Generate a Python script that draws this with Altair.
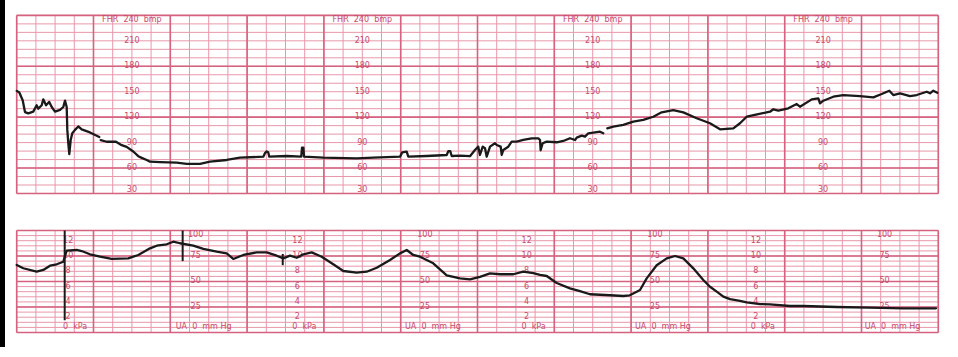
import altair as alt
import pandas as pd
import numpy as np

# ---------------- data (time in minutes, FHR in bpm, UA in mmHg) ----------------
fhr_t = [0.00, 0.034, 0.078, 0.108, 0.151, 0.216, 0.260, 0.281, 0.326, 0.346, 0.382, 0.424, 0.456, 0.499,
         0.564, 0.607, 0.629, 0.651, 0.659, 0.672, 0.685, 0.703, 0.724, 0.759, 0.802, 0.846, 0.954, 1.076,
         1.094, 1.172, 1.293, 1.367, 1.432, 1.518, 1.583, 1.628, 1.693, 1.736, 1.866, 2.083, 2.214, 2.387,
         2.517, 2.734, 2.908, 3.211, 3.235, 3.255, 3.275, 3.289, 3.516, 3.705, 3.715, 3.733, 3.741, 3.992,
         4.427, 4.643, 4.991, 5.020, 5.078, 5.099, 5.339, 5.599, 5.620, 5.645, 5.664, 5.772, 5.902, 5.967,
         6.010, 6.032, 6.068, 6.098, 6.120, 6.163, 6.228, 6.250, 6.302, 6.315, 6.336, 6.401, 6.445, 6.510,
         6.596, 6.706, 6.792, 6.814, 6.822, 6.849, 6.901, 7.031, 7.117, 7.204, 7.270, 7.292, 7.357, 7.400,
         7.443, 7.530, 7.595, 7.638,
         7.690, 7.768, 7.898, 8.029, 8.159, 8.289, 8.398, 8.549, 8.680, 8.854, 9.027, 9.158, 9.331, 9.418,
         9.505, 9.656, 9.809, 9.852, 9.917, 10.047, 10.156, 10.199, 10.352, 10.438, 10.460, 10.503, 10.633,
         10.763, 10.980, 11.154, 11.263, 11.362, 11.414, 11.501, 11.631, 11.719, 11.849, 11.892, 11.935, 11.987]
fhr_bpm = [151, 149, 140, 126, 124.5, 126.5, 134, 130, 134, 141, 134, 138, 132, 126.5,
           128.5, 132, 139.5, 132, 105, 89, 76.5, 93, 101, 105, 109, 105.5, 102, 96.5,
           93, 91, 91, 87, 85, 79.5, 74, 72, 69.5, 67.5, 67, 66.3, 64.8, 65,
           67.5, 69.5, 72.2, 73.4, 78, 79.5, 78.5, 73.4, 74.2, 73.4, 84, 84, 73.4, 72.2,
           71.5, 72.2, 73.4, 78.5, 79.3, 73.4, 74.2, 75.4, 80, 80, 74.2, 74.6, 74, 81.3,
           85.2, 75.4, 85.2, 83.3, 73.4, 85.2, 89.2, 87.2, 85.2, 75.4, 81.3, 85.2, 91.1, 91.1,
           93.1, 95.1, 95.1, 93.1, 81, 89.2, 91.1, 90.4, 91.9, 95.1, 93.1, 95.9, 98.3, 97.1,
           101, 102.1, 102.9, 101,
           106.9, 108.8, 110.8, 114.8, 116.7, 120.5, 125.7, 128.4, 125.7, 118.7, 112.8, 105.7, 106.8, 112.8,
           120.5, 123.7, 126.4, 129.3, 127.6, 130.4, 135.5, 132.3, 141, 142.2, 136.3, 139.4, 144.1,
           146.1, 144.9, 143.4, 147.3, 151.2, 146.1, 148.1, 144.9, 146.1, 150, 148.1, 151.2, 148.8]
fhr_seg = [1] * 28 + [2] * 74 + [3] * 40

ua_t = [0.00, 0.086, 0.260, 0.346, 0.434, 0.521, 0.607, 0.625, 0.651, 0.781, 0.846, 0.954, 1.085, 1.237,
        1.453, 1.583, 1.736, 1.823, 1.953, 2.039, 2.126, 2.299, 2.430, 2.604, 2.734, 2.820, 2.951, 3.125,
        3.255, 3.385, 3.471, 3.559, 3.646, 3.732, 3.841, 3.971, 4.122, 4.253, 4.427, 4.557, 4.688, 4.861,
        4.991, 5.078, 5.164, 5.251, 5.424, 5.599, 5.772, 5.902, 6.032, 6.163, 6.293, 6.466, 6.596, 6.727,
        6.814, 6.901, 7.031, 7.204, 7.334, 7.464, 7.724, 7.898, 7.982, 8.073, 8.116, 8.203, 8.333, 8.464,
        8.572, 8.680, 8.810, 8.940, 9.027, 9.115, 9.201, 9.288, 9.418, 9.505, 9.678, 9.809, 10.069, 10.242,
        10.677, 11.107, 11.544, 11.970]
ua_mmhg = [66.2, 63, 59.6, 61.3, 65.5, 66.9, 69.4, 74, 80.2, 80.9, 79.9, 76.7, 74.3, 72.1,
           72.7, 76, 82.5, 85.1, 86.5, 89, 87.5, 85.1, 81.9, 79.2, 77.6, 72.1, 76, 78.6,
           78.6, 75.3, 72.7, 75.3, 73.3, 76.7, 78.6, 74.3, 66.9, 60.3, 58.6, 59.6, 63.5, 71.1,
           77.6, 80.9, 76, 74.3, 67.8, 56, 53.1, 52, 54.5, 58, 57.1, 57.1, 59.6, 58.2,
           56.4, 55.4, 48.5, 43.3, 40.5, 37.5, 36.5, 35.8, 36.5, 40, 41.7, 53.1, 66, 72.7,
           75, 72.7, 62.9, 51.5, 44.9, 40, 35.1, 32.8, 31, 29.6, 27.9, 27.6, 26, 26,
           25, 24.3, 23.7, 23.7]

event_t = [0.625, 2.161, 3.464]
event_top = [100, 100, 77]
event_bottom = [12, 70, 66]

fhr_label_t = [1.5, 4.5, 7.5, 10.5]
fhr_tick_values = [210, 180, 150, 120, 90, 60]
kpa_label_t = [0.67, 3.655, 6.64, 9.625]
kpa_values = [12, 10, 8, 6, 4, 2]
ua_label_t = [2.33, 5.315, 8.31, 11.30]
ua_values = [75, 50, 25]

# ---------------- scales / styles ----------------
X_DOMAIN = [-0.2174, 12.2565]
FHR_DOMAIN = [-162.83, 258.16]
UA_DOMAIN = [-24.02, 325.98]
THIN = "#e897aa"
THICK = "#d5627f"
LABEL = "#c84a6b"
TRACE = "#1a1a1a"
FONT = "DejaVu Sans"
FS = 8

xs = alt.Scale(domain=X_DOMAIN, nice=False, zero=False)
ys_f = alt.Scale(domain=FHR_DOMAIN, nice=False, zero=False)
ys_u = alt.Scale(domain=UA_DOMAIN, nice=False, zero=False)

minor_t = list(np.round(np.arange(0, 12.001, 0.25), 3))
major_t = list(range(0, 13))


def hgrid(vals, yscale, color, width, x0=0, x1=12):
    df = pd.DataFrame({"v": vals, "a": x0, "b": x1})
    return alt.Chart(df).mark_rule(color=color, strokeWidth=width).encode(
        x=alt.X("a:Q", scale=xs, axis=None), x2="b:Q",
        y=alt.Y("v:Q", scale=yscale, axis=None))


def vgrid(ts, lo, hi, yscale, color, width):
    df = pd.DataFrame({"t": ts, "lo": lo, "hi": hi})
    return alt.Chart(df).mark_rule(color=color, strokeWidth=width).encode(
        x=alt.X("t:Q", scale=xs, axis=None),
        y=alt.Y("lo:Q", scale=yscale, axis=None), y2="hi:Q")


def labels(df, yscale, baseline, dx=0, dy=0):
    return alt.Chart(df).mark_text(font=FONT, fontSize=FS, color=LABEL, baseline=baseline,
                                   align="center", dx=dx, dy=dy).encode(
        x=alt.X("t:Q", scale=xs, axis=None),
        y=alt.Y("v:Q", scale=yscale, axis=None),
        text="s:N")


# ---------------- top panel (FHR) ----------------
fhr_df = pd.DataFrame({"t": fhr_t, "bpm": fhr_bpm, "seg": fhr_seg})
fhr_thin_h = [v for v in range(30, 241, 10)]
fhr_thick_h = [30, 60, 120, 180, 240]

mid_rows = [{"t": t, "v": v, "s": str(v)} for t in fhr_label_t for v in fhr_tick_values]
top_rows = [{"t": t, "v": 240, "s": "FHR\u00a0\u00a0240\u00a0\u00a0bmp"} for t in fhr_label_t]
bot_rows = [{"t": t, "v": 30, "s": "30"} for t in fhr_label_t]

black_strip = alt.Chart(pd.DataFrame({"a": [0]})).mark_rect(color="#000000").encode(
    x=alt.value(0), x2=alt.value(5), y=alt.value(0), y2=alt.value(347))

top = alt.layer(
    hgrid(fhr_thin_h, ys_f, THIN, 1),
    vgrid(minor_t, 30, 240, ys_f, THIN, 1),
    hgrid(fhr_thick_h, ys_f, THICK, 1.6),
    vgrid(major_t, 30, 240, ys_f, THICK, 1.6),
    labels(pd.DataFrame(mid_rows), ys_f, "middle"),
    labels(pd.DataFrame(top_rows), ys_f, "top", dy=0.5),
    labels(pd.DataFrame(bot_rows), ys_f, "alphabetic", dy=-1),
    alt.Chart(fhr_df).mark_line(color=TRACE, strokeWidth=2.3, strokeJoin="round", strokeCap="round").encode(
        x=alt.X("t:Q", scale=xs, axis=None),
        y=alt.Y("bpm:Q", scale=ys_f, axis=None),
        detail="seg:N"),
    black_strip,
)

# ---------------- bottom panel (UA) ----------------
ua_df = pd.DataFrame({"t": ua_t, "mmhg": ua_mmhg})
ev_df = pd.DataFrame({"t": event_t, "lo": event_bottom, "hi": event_top})
ua_thin_h = list(range(0, 101, 5))
ua_thick_h = [0, 25, 50, 75, 100]

kpa_rows = [{"t": t, "v": k * 7.5, "s": str(k)} for t in kpa_label_t for k in kpa_values]
kpa0_rows = [{"t": t, "v": 0, "s": "0\u00a0\u00a0kPa"} for t in kpa_label_t]
ua_rows = [{"t": t, "v": v, "s": str(v)} for t in ua_label_t for v in ua_values]
ua100_rows = [{"t": t, "v": 100, "s": "100"} for t in ua_label_t]
ua0_rows = [{"t": t, "v": 0, "s": "UA\u00a0\u00a00\u00a0\u00a0mm\u00a0Hg"} for t in ua_label_t]

bottom = alt.layer(
    hgrid(ua_thin_h, ys_u, THIN, 1),
    vgrid(minor_t, 0, 100, ys_u, THIN, 1),
    hgrid(ua_thick_h, ys_u, THICK, 1.6),
    vgrid(major_t, 0, 100, ys_u, THICK, 1.6),
    labels(pd.DataFrame(kpa_rows), ys_u, "middle"),
    labels(pd.DataFrame(kpa0_rows), ys_u, "alphabetic", dx=7, dy=-3),
    labels(pd.DataFrame(ua_rows), ys_u, "middle"),
    labels(pd.DataFrame(ua100_rows), ys_u, "top", dy=1),
    labels(pd.DataFrame(ua0_rows), ys_u, "alphabetic", dx=8, dy=-3),
    alt.Chart(ua_df).mark_line(color=TRACE, strokeWidth=2.3, strokeJoin="round", strokeCap="round").encode(
        x=alt.X("t:Q", scale=xs, axis=None),
        y=alt.Y("mmhg:Q", scale=ys_u, axis=None)),
    alt.Chart(ev_df).mark_rule(color=TRACE, strokeWidth=2).encode(
        x=alt.X("t:Q", scale=xs, axis=None),
        y=alt.Y("lo:Q", scale=ys_u, axis=None), y2="hi:Q"),
)

chart = alt.layer(top, bottom).resolve_scale(y="independent").properties(
    width=958, height=357,
    autosize=alt.AutoSizeParams(type="none"),
    padding=0,
    background="white",
).configure_view(strokeWidth=0)

chart.save("out.html", embed_options={"renderer": "svg", "actions": False})
